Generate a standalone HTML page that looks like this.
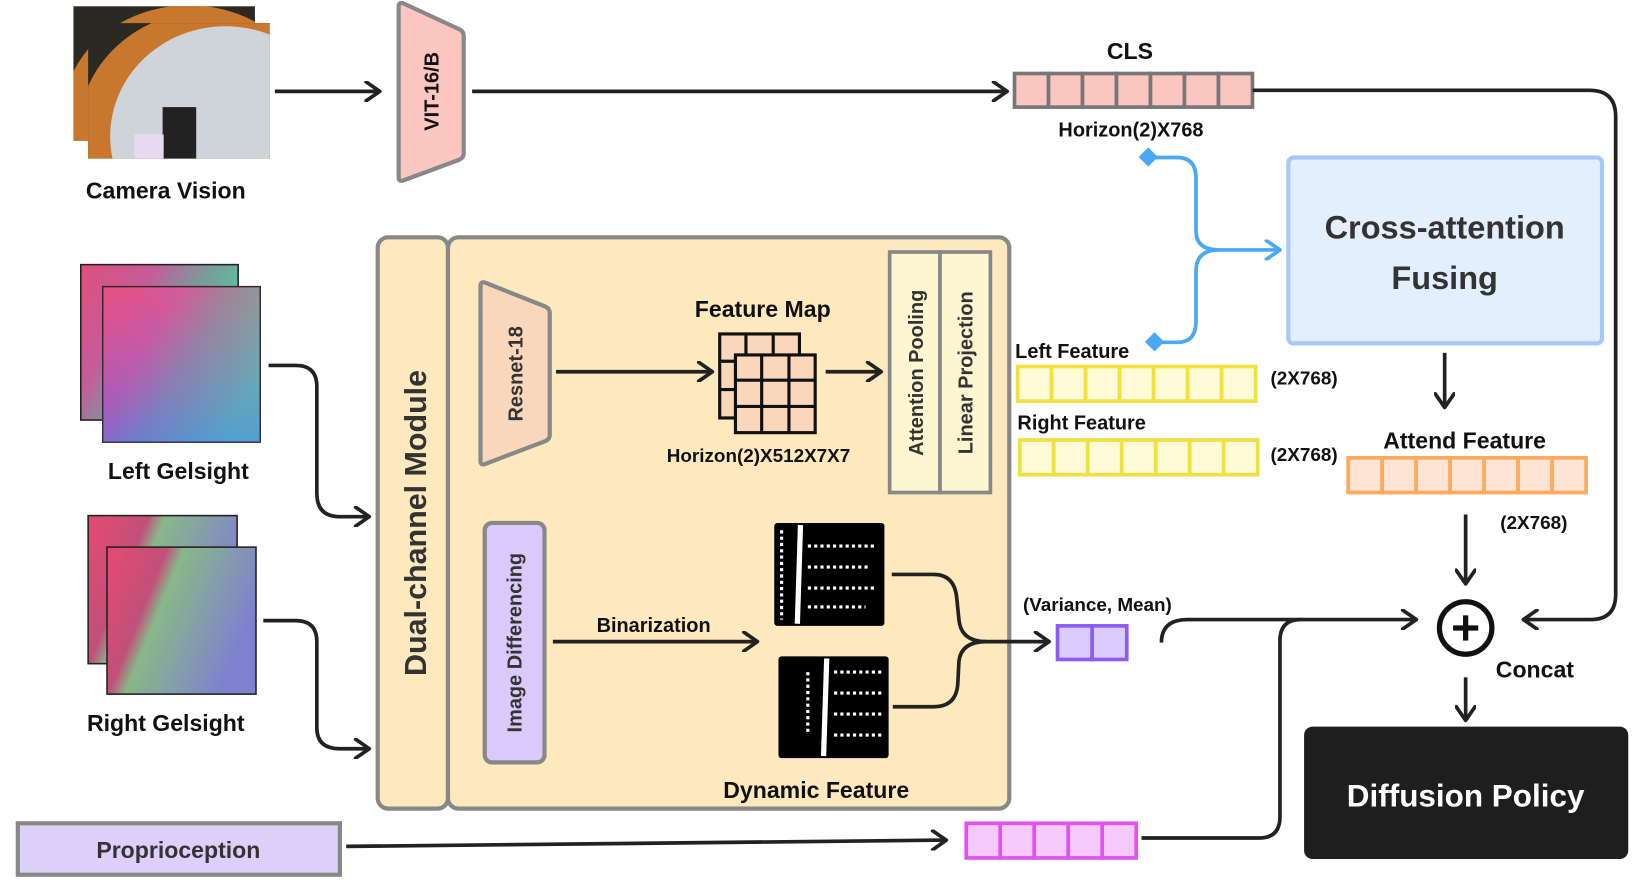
<!DOCTYPE html>
<html><head><meta charset="utf-8"><style>
html,body{margin:0;padding:0;background:#fff;}
svg{display:block;}
text{font-family:"Liberation Sans",sans-serif;font-weight:bold;fill:#111;}
</style></head><body>
<svg width="1644" height="880" viewBox="0 0 1567 838" preserveAspectRatio="none" xmlns="http://www.w3.org/2000/svg">
<defs>
<marker id="ah" viewBox="0 0 20 20" refX="17" refY="10" markerWidth="20" markerHeight="20" markerUnits="userSpaceOnUse" orient="auto">
<path d="M4,1 L17,10 L4,19" fill="none" stroke="#222" stroke-width="3.5" stroke-linecap="round" stroke-linejoin="round"/></marker>
<marker id="ahb" viewBox="0 0 20 20" refX="17" refY="10" markerWidth="20" markerHeight="20" markerUnits="userSpaceOnUse" orient="auto">
<path d="M4,1 L17,10 L4,19" fill="none" stroke="#4aa8f5" stroke-width="3.5" stroke-linecap="round" stroke-linejoin="round"/></marker>
<linearGradient id="g1" x1="0" y1="0" x2="1" y2="0.6"><stop offset="0" stop-color="#e0507a"/><stop offset="0.35" stop-color="#c45c9a"/><stop offset="0.6" stop-color="#7a9a9a"/><stop offset="1" stop-color="#40e0a0"/></linearGradient>
<linearGradient id="g1b" x1="0" y1="0" x2="0" y2="1"><stop offset="0" stop-color="#ff5090" stop-opacity="0.3"/><stop offset="1" stop-color="#6060ff" stop-opacity="0.5"/></linearGradient>
<linearGradient id="g2" x1="0" y1="0" x2="1" y2="0.4"><stop offset="0" stop-color="#e84a70"/><stop offset="0.35" stop-color="#c0507a"/><stop offset="0.45" stop-color="#88b888"/><stop offset="1" stop-color="#8080d0"/></linearGradient>
<clipPath id="c1"><rect x="70" y="6" width="173" height="128"/></clipPath>
<clipPath id="c2"><rect x="84" y="22" width="173" height="129"/></clipPath>
</defs>

<!-- Camera -->
<rect x="70" y="6" width="173" height="128" fill="#2a2a22"/>
<g clip-path="url(#c1)"><ellipse cx="180" cy="110" rx="120" ry="105" fill="#c8782e"/></g>
<rect x="84" y="22" width="173" height="129" fill="#2a2a22"/>
<g clip-path="url(#c2)"><ellipse cx="200" cy="125" rx="125" ry="115" fill="#c8782e"/><ellipse cx="215" cy="130" rx="110" ry="105" fill="#cfd3da"/>
<rect x="155" y="102" width="32" height="49" fill="#222"/><rect x="128" y="128" width="28" height="23" fill="#e8d8f0"/></g>
<text x="158" y="189" font-size="22" text-anchor="middle">Camera Vision</text>
<line x1="262" y1="87" x2="362" y2="87" stroke="#222" stroke-width="3.5" marker-end="url(#ah)"/>

<!-- VIT -->
<path d="M380,6 Q380,2 384,3 L438,28 Q442,30 442,34 L442,146 Q442,150 438,152 L384,172 Q380,173 380,169 Z" fill="#fcc6c0" stroke="#888" stroke-width="4" stroke-linejoin="round"/>
<text transform="translate(418,87) rotate(-90)" font-size="19" text-anchor="middle">VIT-16/B</text>
<line x1="450" y1="87" x2="960" y2="87" stroke="#222" stroke-width="3.5" marker-end="url(#ah)"/>

<!-- CLS bar -->
<text x="1077" y="56" font-size="22" text-anchor="middle">CLS</text>
<g fill="#fcc6c0" stroke="#777" stroke-width="3.5">
<rect x="967" y="70" width="32.4" height="32"/><rect x="999.4" y="70" width="32.4" height="32"/><rect x="1031.8" y="70" width="32.4" height="32"/><rect x="1064.2" y="70" width="32.4" height="32"/><rect x="1096.6" y="70" width="32.4" height="32"/><rect x="1129" y="70" width="32.4" height="32"/><rect x="1161.4" y="70" width="32.4" height="32"/></g>
<text x="1078" y="130" font-size="19" text-anchor="middle">Horizon(2)X768</text>
<path d="M1194,86 L1515,86 Q1540,86 1540,111 L1540,566 Q1540,590 1516,590 L1452,590" fill="none" stroke="#222" stroke-width="3.5" marker-end="url(#ah)"/>

<!-- blue connector -->
<path d="M1097,150 L1122,150 Q1140,150 1140,170 L1140,220 Q1140,238 1162,238 L1220,238" fill="none" stroke="#4aa8f5" stroke-width="3.5" marker-end="url(#ahb)"/>
<path d="M1102,326 L1122,326 Q1140,326 1140,306 L1140,258 Q1140,238 1162,238" fill="none" stroke="#4aa8f5" stroke-width="3.5"/>
<rect x="1088" y="143" width="13" height="13" fill="#4aa8f5" transform="rotate(45 1094.5 149.5)"/>
<rect x="1094" y="319" width="13" height="13" fill="#4aa8f5" transform="rotate(45 1100.5 325.5)"/>

<!-- cross-attention -->
<rect x="1228" y="150" width="299" height="177" rx="5" fill="#e3effd" stroke="#a8c8fa" stroke-width="4"/>
<text x="1377" y="227" font-size="31" text-anchor="middle" style="fill:#333">Cross-attention</text>
<text x="1377" y="275" font-size="31" text-anchor="middle" style="fill:#333">Fusing</text>
<line x1="1377" y1="336" x2="1377" y2="388" stroke="#222" stroke-width="3.5" marker-end="url(#ah)"/>
<text x="1396" y="427" font-size="22" text-anchor="middle">Attend Feature</text>
<g fill="#fde3d3" stroke="#fbab5b" stroke-width="3.5">
<rect x="1285" y="436" width="32.4" height="33"/><rect x="1317.4" y="436" width="32.4" height="33"/><rect x="1349.8" y="436" width="32.4" height="33"/><rect x="1382.2" y="436" width="32.4" height="33"/><rect x="1414.6" y="436" width="32.4" height="33"/><rect x="1447" y="436" width="32.4" height="33"/><rect x="1479.4" y="436" width="32.4" height="33"/></g>
<text x="1462" y="504" font-size="18" text-anchor="middle">(2X768)</text>
<line x1="1397" y1="490" x2="1397" y2="556" stroke="#222" stroke-width="3.5" marker-end="url(#ah)"/>
<circle cx="1397" cy="598" r="25" fill="#fff" stroke="#111" stroke-width="5"/>
<line x1="1385" y1="598" x2="1409" y2="598" stroke="#111" stroke-width="5"/>
<line x1="1397" y1="586" x2="1397" y2="610" stroke="#111" stroke-width="5"/>
<text x="1463" y="645" font-size="22" text-anchor="middle">Concat</text>
<line x1="1397" y1="645" x2="1397" y2="686" stroke="#222" stroke-width="3.5" marker-end="url(#ah)"/>
<rect x="1243" y="692" width="309" height="126" rx="8" fill="#1e1e1e"/>
<text x="1397" y="768" font-size="30" text-anchor="middle" style="fill:#fff">Diffusion Policy</text>

<!-- Dual channel module -->
<rect x="360" y="226" width="67" height="544" rx="10" fill="#fde9bd" stroke="#888" stroke-width="4"/>
<rect x="427" y="226" width="535" height="544" rx="10" fill="#fde9bd" stroke="#888" stroke-width="4"/>
<text transform="translate(406,498) rotate(-90)" font-size="29" text-anchor="middle" style="fill:#333">Dual-channel Module</text>

<!-- Resnet -->
<path d="M458,272 Q458,268 462,269 L520,292 Q524,294 524,298 L524,414 Q524,418 520,420 L462,442 Q458,443 458,439 Z" fill="#fad6bb" stroke="#888" stroke-width="4" stroke-linejoin="round"/>
<text transform="translate(498,356) rotate(-90)" font-size="19" text-anchor="middle" style="fill:#333">Resnet-18</text>
<line x1="530" y1="354" x2="679" y2="354" stroke="#222" stroke-width="3.5" marker-end="url(#ah)"/>
<text x="727" y="302" font-size="22" text-anchor="middle">Feature Map</text>
<g fill="#fad6bb" stroke="#111" stroke-width="3">
<rect x="686" y="318" width="76" height="80"/>
<line x1="711" y1="318" x2="711" y2="398"/><line x1="737" y1="318" x2="737" y2="398"/>
<line x1="686" y1="344" x2="762" y2="344"/><line x1="686" y1="371" x2="762" y2="371"/>
<rect x="701" y="338" width="76" height="74"/>
<line x1="726" y1="338" x2="726" y2="412"/><line x1="752" y1="338" x2="752" y2="412"/>
<line x1="701" y1="362" x2="777" y2="362"/><line x1="701" y1="387" x2="777" y2="387"/></g>
<text x="723" y="440" font-size="18" text-anchor="middle">Horizon(2)X512X7X7</text>
<line x1="787" y1="354" x2="840" y2="354" stroke="#222" stroke-width="3.5" marker-end="url(#ah)"/>
<rect x="848" y="240" width="48" height="229" fill="#fdf6d0" stroke="#888" stroke-width="3.5"/>
<rect x="896" y="240" width="48" height="229" fill="#fdf6d0" stroke="#888" stroke-width="3.5"/>
<text transform="translate(880,355) rotate(-90)" font-size="19" text-anchor="middle" style="fill:#333">Attention Pooling</text>
<text transform="translate(927,355) rotate(-90)" font-size="19" text-anchor="middle" style="fill:#333">Linear Projection</text>

<!-- Image differencing -->
<rect x="462" y="498" width="57" height="228" rx="7" fill="#dcc9fb" stroke="#888" stroke-width="4"/>
<text transform="translate(497,612) rotate(-90)" font-size="19" text-anchor="middle" style="fill:#333">Image Differencing</text>
<line x1="527" y1="611" x2="722" y2="611" stroke="#222" stroke-width="3.5" marker-end="url(#ah)"/>
<text x="623" y="602" font-size="19" text-anchor="middle">Binarization</text>
<rect x="738" y="498" width="105" height="98" rx="3" fill="#000"/>
<g stroke="#fff" stroke-dasharray="3 3" stroke-width="3"><line x1="763" y1="500" x2="760" y2="594" stroke-dasharray="none" stroke-width="5"/>
<line x1="770" y1="520" x2="835" y2="520"/><line x1="770" y1="540" x2="830" y2="540"/><line x1="770" y1="560" x2="835" y2="560"/><line x1="770" y1="578" x2="825" y2="578"/><line x1="745" y1="505" x2="745" y2="590"/></g>
<rect x="742" y="625" width="105" height="97" rx="3" fill="#000"/>
<g stroke="#fff" stroke-dasharray="3 3" stroke-width="3"><line x1="788" y1="627" x2="785" y2="720" stroke-dasharray="none" stroke-width="5"/>
<line x1="795" y1="640" x2="840" y2="640"/><line x1="795" y1="660" x2="840" y2="660"/><line x1="795" y1="680" x2="840" y2="680"/><line x1="795" y1="700" x2="840" y2="700"/><line x1="770" y1="640" x2="770" y2="700"/></g>
<path d="M850,547 L890,547 Q910,547 912,570 L914,590 Q916,611 940,611 L1000,611" fill="none" stroke="#222" stroke-width="3.5" marker-end="url(#ah)"/>
<path d="M851,673 L890,673 Q912,673 913,650 L914,630 Q916,611 940,611" fill="none" stroke="#222" stroke-width="3.5"/>
<text x="778" y="760" font-size="22" text-anchor="middle">Dynamic Feature</text>

<!-- Left/Right feature -->
<text x="1022" y="341" font-size="19" text-anchor="middle">Left Feature</text>
<g fill="#fefbd6" stroke="#f0e040" stroke-width="3.5">
<rect x="970" y="349" width="32.4" height="33"/><rect x="1002.4" y="349" width="32.4" height="33"/><rect x="1034.8" y="349" width="32.4" height="33"/><rect x="1067.2" y="349" width="32.4" height="33"/><rect x="1099.6" y="349" width="32.4" height="33"/><rect x="1132" y="349" width="32.4" height="33"/><rect x="1164.4" y="349" width="32.4" height="33"/>
<rect x="972" y="419" width="32.4" height="33"/><rect x="1004.4" y="419" width="32.4" height="33"/><rect x="1036.8" y="419" width="32.4" height="33"/><rect x="1069.2" y="419" width="32.4" height="33"/><rect x="1101.6" y="419" width="32.4" height="33"/><rect x="1134" y="419" width="32.4" height="33"/><rect x="1166.4" y="419" width="32.4" height="33"/></g>
<text x="1243" y="366" font-size="18" text-anchor="middle">(2X768)</text>
<text x="1031" y="409" font-size="19" text-anchor="middle">Right Feature</text>
<text x="1243" y="439" font-size="18" text-anchor="middle">(2X768)</text>

<!-- variance mean -->
<text x="1046" y="582" font-size="18" text-anchor="middle">(Variance, Mean)</text>
<g fill="#dccbfd" stroke="#8d5cf6" stroke-width="3.5"><rect x="1008" y="596" width="33" height="32"/><rect x="1041" y="596" width="33" height="32"/></g>
<path d="M1107,612 Q1107,590 1132,590 L1350,590" fill="none" stroke="#222" stroke-width="3.5" marker-end="url(#ah)"/>
<path d="M1088,798 L1200,798 Q1220,798 1220,778 L1220,610 Q1220,590 1240,590" fill="none" stroke="#222" stroke-width="3.5"/>

<!-- Proprioception -->
<rect x="17" y="784" width="307" height="49" fill="#dcd0fb" stroke="#888" stroke-width="4"/>
<text x="170" y="817" font-size="22" text-anchor="middle" style="fill:#333">Proprioception</text>
<line x1="330" y1="806" x2="902" y2="800" stroke="#222" stroke-width="3.5" marker-end="url(#ah)"/>
<g fill="#f4c9fb" stroke="#e451f3" stroke-width="3.5">
<rect x="921" y="784" width="32.4" height="33"/><rect x="953.4" y="784" width="32.4" height="33"/><rect x="985.8" y="784" width="32.4" height="33"/><rect x="1018.2" y="784" width="32.4" height="33"/><rect x="1050.6" y="784" width="32.4" height="33"/></g>

<!-- Gelsights -->
<rect x="77" y="252" width="150" height="148" fill="url(#g1)" stroke="#222" stroke-width="1.5"/>
<rect x="98" y="273" width="150" height="148" fill="url(#g1)" stroke="#222" stroke-width="1.5"/>
<rect x="98" y="273" width="150" height="148" fill="url(#g1b)"/>
<text x="170" y="456" font-size="22" text-anchor="middle">Left Gelsight</text>
<path d="M256,348 L282,348 Q302,348 302,368 L302,470 Q302,492 324,492 L352,492" fill="none" stroke="#222" stroke-width="3.5" marker-end="url(#ah)"/>
<rect x="84" y="491" width="142" height="141" fill="url(#g2)" stroke="#222" stroke-width="1.5"/>
<rect x="102" y="521" width="142" height="140" fill="url(#g2)" stroke="#222" stroke-width="1.5"/>
<text x="158" y="696" font-size="22" text-anchor="middle">Right Gelsight</text>
<path d="M251,591 L282,591 Q302,591 302,611 L302,693 Q302,713 324,713 L352,713" fill="none" stroke="#222" stroke-width="3.5" marker-end="url(#ah)"/>
</svg>
</body></html>
